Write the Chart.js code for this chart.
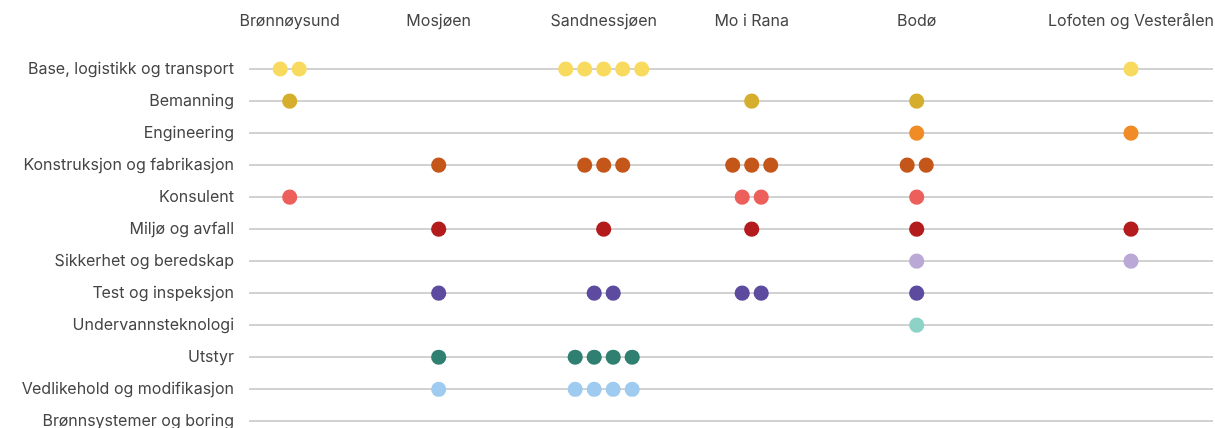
<!DOCTYPE html>
<html>
<head>
<meta charset="utf-8">
<script src="https://cdn.jsdelivr.net/npm/chart.js@4/dist/chart.umd.min.js"></script>
<style>
  html, body { margin: 0; padding: 0; background: #fff; overflow: hidden; }
  canvas { display: block; }
</style>
</head>
<body>
<canvas id="chart" width="1215" height="428"></canvas>
<script>
// Steder (kolonner)
const towns = ['Brønnøysund', 'Mosjøen', 'Sandnessjøen', 'Mo i Rana', 'Bodø', 'Lofoten og Vesterålen'];

// Bransjer (rader)
const categories = [
  'Base, logistikk og transport',
  'Bemanning',
  'Engineering',
  'Konstruksjon og fabrikasjon',
  'Konsulent',
  'Miljø og avfall',
  'Sikkerhet og beredskap',
  'Test og inspeksjon',
  'Undervannsteknologi',
  'Utstyr',
  'Vedlikehold og modifikasjon',
  'Brønnsystemer og boring',
];

// antall bedrifter per sted, i samme rekkefølge som towns
const base         = [2, 0, 5, 0, 0, 1];
const bemanning    = [1, 0, 0, 1, 1, 0];
const engineering  = [0, 0, 0, 0, 1, 1];
const konstruksjon = [0, 1, 3, 3, 2, 0];
const konsulent    = [1, 0, 0, 2, 1, 0];
const miljo        = [0, 1, 1, 1, 1, 1];
const sikkerhet    = [0, 0, 0, 0, 1, 1];
const test         = [0, 1, 2, 2, 1, 0];
const undervann    = [0, 0, 0, 0, 1, 0];
const utstyr       = [0, 1, 4, 0, 0, 0];
const vedlikehold  = [0, 1, 4, 0, 0, 0];
const bronn        = [0, 0, 0, 0, 0, 0];

const counts = [base, bemanning, engineering, konstruksjon, konsulent, miljo,
                sikkerhet, test, undervann, utstyr, vedlikehold, bronn];

const COLORS = ['#F8DB5E', '#D5AE2D', '#F18B25', '#C4561A', '#EC5F5A', '#B31B1D',
                '#BAA9D6', '#5D4B9F', '#8DD2C6', '#2F8070', '#9ECBEF', '#999999'];

// kolonneplassering langs x-aksen (aksens enheter, 0–964)
const COL_X = [40.7, 189.7, 354.7, 502.7, 667.7, 882];
const DOT_GAP = 19;
const TEXT = '#454545';
const FONT = "Inter, 'Noto Sans', sans-serif";

const datasets = categories.map((cat, ci) => {
  const pts = [];
  counts[ci].forEach((n, ti) => {
    for (let k = 0; k < n; k++) {
      pts.push({ x: COL_X[ti] + (k - (n - 1) / 2) * DOT_GAP, y: cat });
    }
  });
  return {
    label: cat,
    data: pts,
    backgroundColor: COLORS[ci],
    pointRadius: 7.6,
    pointHoverRadius: 7.6,
    borderWidth: 0,
    clip: false,
  };
});

const noPad = s => { s.paddingTop = 0; s.paddingBottom = 0; s.paddingLeft = 0; s.paddingRight = 0; };

new Chart(document.getElementById('chart'), {
  type: 'scatter',
  data: { datasets },
  options: {
    responsive: false,
    animation: false,
    devicePixelRatio: 1,
    layout: { autoPadding: false, padding: { top: 0, right: 2, bottom: 6.7, left: 0 } },
    plugins: { legend: { display: false }, tooltip: { enabled: false } },
    scales: {
      x: {
        type: 'linear',
        position: 'top',
        min: 0,
        max: 964,
        grid: { display: false, drawTicks: false },
        border: { display: false },
        afterBuildTicks: s => { s.ticks = COL_X.map(v => ({ value: v })); },
        afterFit: s => { s.height = 69; noPad(s); },
        ticks: {
          autoSkip: false,
          maxRotation: 0,
          padding: 38,
          color: TEXT,
          font: { family: FONT, size: 16 },
          callback: (v, i) => towns[i],
        },
      },
      y: {
        type: 'category',
        labels: categories,
        offset: false,
        grid: { color: '#d2d2d2', lineWidth: 2, drawTicks: false },
        border: { display: false },
        afterFit: s => { s.width = 249; noPad(s); },
        ticks: {
          padding: 15,
          color: TEXT,
          font: { family: FONT, size: 16 },
        },
      },
    },
  },
});
</script>
</body>
</html>
